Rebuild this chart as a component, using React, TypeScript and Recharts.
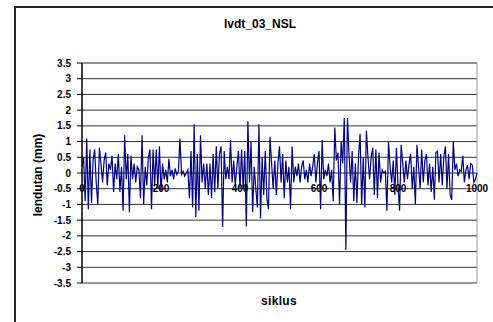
import { CartesianGrid, Line, LineChart, ReferenceLine, XAxis, YAxis } from "recharts";

// lvdt_03_NSL — deflection per cycle, every 4 cycles
const STEP = 4;
const LENDUTAN = [
  0.2, 0.5, -0.9, 1.1, -1.15, 0.75, -0.95, 0.4, 0.75, -0.3,
  -1.0, 0.8, 0.3, -0.3, 0.4, 0.65, -0.4, 0.3, 0.1, 0.55,
  -0.6, 0.3, -0.2, 0.6, -0.6, 0.2, -1.2, 1.2, -0.2, 0.6,
  -1.25, 0.55, -0.2, 0.3, -0.3, 0.2, 0.1, -0.8, 1.2, -1.0,
  0.2, -0.4, 0.5, 0.75, -1.15, 0.75, -0.4, 0.75, -0.5, 0.85,
  -0.6, 0.3, -0.2, 0.1, -0.3, 0.45, -0.1, 0.1, -0.2, 0.15,
  -0.05, 0.05, 1.1, -0.05, 0.05, -0.1, 0.0, 0.1, -0.8, 0.7,
  -1.1, 1.55, -1.4, 0.6, -1.2, 1.2, -0.3, 0.3, -0.5, 0.3,
  -0.7, 0.3, -0.8, 0.6, -0.6, 0.85, -0.5, 0.6, 0.85, -1.72,
  0.7, -0.2, 0.2, -0.2, 1.05, -0.3, 0.4, -0.4, 0.2, 0.7,
  -0.5, 0.75, -0.5, 0.7, -1.7, 1.65, -0.3, 1.0, -1.25, 0.2,
  -0.5, -1.1, 1.55, -1.45, 0.5, -0.7, 0.7, -0.8, -1.15, 1.15,
  0.3, -0.5, 0.4, -0.7, 0.3, 0.85, -0.3, 0.6, -0.8, 0.4,
  -0.3, 0.2, -1.15, 0.85, -0.3, 0.2, -0.1, 0.3, -0.3, 0.2,
  0.4, -0.2, 0.1, -0.3, 0.3, -0.1, 0.2, 0.6, -0.3, 0.3,
  0.7, -1.15, 1.05, -0.2, 0.1, -0.1, 0.3, -0.3, 0.1, -0.9,
  1.45, 0.4, 0.65, -1.0, 1.0, 0.3, 1.75, -2.45, 1.75, 0.6,
  -0.3, 0.7, -0.9, 0.3, -0.95, 0.5, 1.25, -1.0, 0.5, -1.1,
  1.35, 0.5, -0.2, 0.5, 0.8, -0.7, 0.75, -0.8, 0.65, -0.3,
  0.1, 0.0, 0.05, -1.2, 1.0, 0.2, -0.3, 0.4, -0.7, 0.8,
  -0.4, -1.2, 0.9, 0.3, -0.3, 0.4, -0.2, 0.3, 0.6, -0.5,
  0.2, -1.0, 0.9, 0.2, -0.5, 0.75, -0.3, 0.4, 0.6, -0.4,
  0.3, -0.6, 0.2, -0.85, 0.65, 0.7, -0.3, 0.6, -0.4, 0.5,
  0.85, -0.5, 0.6, -0.7, -0.85, 1.0, 0.1, 0.3, -0.1, 0.1,
  0.05, 0.55, -0.3, 0.1, 0.25, -0.2, 0.3, 0.25, -0.3, -0.2,
  0.0,
];
const X_TICKS = [0, 200, 400, 600, 800, 1000];
const Y_TICKS = [3.5, 3, 2.5, 2, 1.5, 1, 0.5, 0, -0.5, -1, -1.5, -2, -2.5, -3, -3.5];

const W = 493;
const H = 322;
const PLOT_TOP = 63;
const PLOT_H = 220;
const FONT = "'Liberation Sans', Arial, sans-serif";
const NAVY = "#000080";

const data = LENDUTAN.map((v, i) => ({ siklus: i * STEP, lendutan: v }));

// Excel puts the category labels on the zero line, not under the plot
function ZeroLineTick(props: any) {
  const { x, y, payload } = props;
  return (
    <text
      x={x}
      y={y - PLOT_H / 2 + 19}
      textAnchor="middle"
      fontFamily={FONT}
      fontWeight="bold"
      fontSize={10}
      fill="#000"
    >
      {payload.value}
    </text>
  );
}

export default function App() {
  return (
    <div style={{ position: "absolute", left: 0, top: 0, width: W, height: H, background: "#fff", overflow: "hidden" }}>
      <div
        style={{
          position: "absolute",
          left: 14,
          top: 6,
          width: W,
          height: H,
          borderLeft: "2px solid #222",
          borderTop: "2px solid #222",
        }}
      />
      <div
        style={{
          position: "absolute",
          left: 260,
          top: 17,
          transform: "translateX(-50%)",
          fontFamily: FONT,
          fontWeight: "bold",
          fontSize: 12,
          whiteSpace: "nowrap",
        }}
      >
        lvdt_03_NSL
      </div>
      <div
        style={{
          position: "absolute",
          left: 279,
          top: 294,
          transform: "translateX(-50%)",
          fontFamily: FONT,
          fontWeight: "bold",
          fontSize: 12,
          letterSpacing: 0.3,
          whiteSpace: "nowrap",
        }}
      >
        siklus
      </div>
      <div
        style={{
          position: "absolute",
          left: 38,
          top: 175,
          transform: "translate(-50%, -50%) rotate(-90deg)",
          fontFamily: FONT,
          fontWeight: "bold",
          fontSize: 12,
          whiteSpace: "nowrap",
        }}
      >
        lendutan (mm)
      </div>
      <div style={{ position: "absolute", left: 0, top: 0 }}>
        <LineChart width={W} height={H} data={data} margin={{ top: PLOT_TOP, right: 16, left: 20, bottom: 9 }}>
          <CartesianGrid horizontal vertical={false} stroke="#333" strokeWidth={1} />
          <ReferenceLine x={1000} stroke="#999" />
          <ReferenceLine y={3.5} stroke="#888" />
          <XAxis
            dataKey="siklus"
            type="number"
            domain={[0, 1000]}
            ticks={X_TICKS}
            axisLine={false}
            tickLine={false}
            tickSize={0}
            tickMargin={0}
            height={30}
            tick={<ZeroLineTick />}
          />
          <YAxis
            type="number"
            domain={[-3.5, 3.5]}
            ticks={Y_TICKS}
            interval={0}
            width={62}
            axisLine={{ stroke: "#000", strokeWidth: 1.5 }}
            tickLine={{ stroke: "#000" }}
            tickSize={5}
            tickMargin={6}
            tick={{ fontFamily: FONT, fontWeight: "bold", fontSize: 10, fill: "#000" }}
          />
          <Line
            dataKey="lendutan"
            type="linear"
            stroke={NAVY}
            strokeWidth={1.2}
            dot={false}
            isAnimationActive={false}
          />
        </LineChart>
      </div>
    </div>
  );
}
